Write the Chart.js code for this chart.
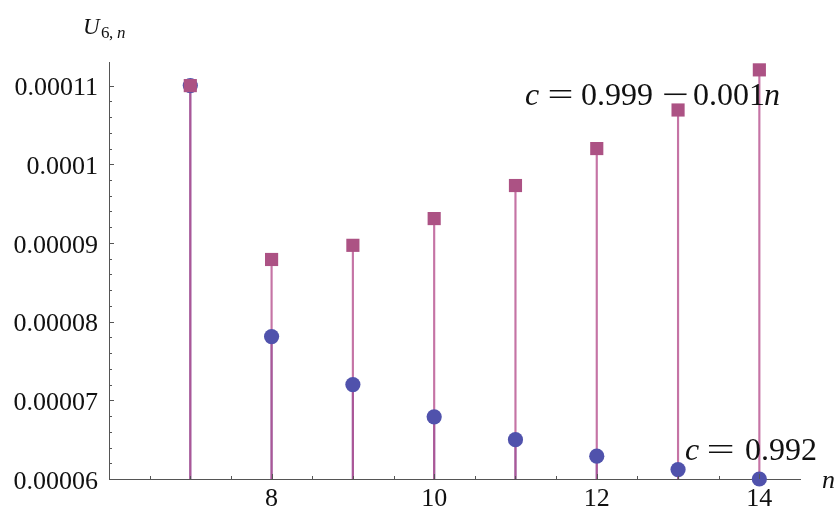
<!DOCTYPE html>
<html>
<head>
<meta charset="utf-8">
<script src="https://cdn.jsdelivr.net/npm/chart.js@4.4.0/dist/chart.umd.min.js"></script>
<style>
  html, body { margin: 0; padding: 0; background: #ffffff; }
  #wrap { width: 839px; height: 509px; }
</style>
</head>
<body>
<div id="wrap"><canvas id="chart"></canvas></div>
<script>
// ===== Data =====
const nValues = [7, 8, 9, 10, 11, 12, 13, 14];
const uConst = [0.000110, 0.0000781, 0.0000720, 0.0000679, 0.0000650, 0.0000629, 0.0000612, 0.0000600];
const uLinear = [0.000110, 0.0000879, 0.0000897, 0.0000931, 0.0000973, 0.0001020, 0.0001069, 0.0001120];
const xTicks = [8, 10, 12, 14];
const yTicks = [0.00006, 0.00007, 0.00008, 0.00009, 0.0001, 0.00011];
const yTickLabels = ['0.00006', '0.00007', '0.00008', '0.00009', '0.0001', '0.00011'];
const axisBase = 0.00006;

const blue = 'rgb(80, 82, 172)';
const plum = 'rgb(172, 82, 132)';
const serif = "'Liberation Serif', 'DejaVu Serif', serif";

// stems from the axis to each point
const stem = (vals) => nValues.map((n, i) => ({ x: n, y: [axisBase, vals[i]] }));
const pts = (vals) => nValues.map((n, i) => ({ x: n, y: vals[i] }));

// ===== ticks pointing inward + text labels =====
const decoPlugin = {
  id: 'deco',
  afterDraw(chart) {
    const ctx = chart.ctx;
    const xs = chart.scales.x, ys = chart.scales.y;
    const a = chart.chartArea;
    ctx.save();
    ctx.strokeStyle = '#555';
    ctx.lineWidth = 1;
    ctx.beginPath();
    for (let v = 6.5; v <= 14.01; v += 0.5) {
      const px = Math.round(xs.getPixelForValue(v)) + 0.5;
      const len = Number.isInteger(v) && v % 2 === 0 ? 5 : 3;
      ctx.moveTo(px, a.bottom);
      ctx.lineTo(px, a.bottom - len);
    }
    for (let k = 0; k <= 25; k++) {
      const v = axisBase + k * 0.000002;
      const py = Math.round(ys.getPixelForValue(v)) + 0.5;
      const len = k % 5 === 0 ? 5 : 3;
      ctx.moveTo(a.left, py);
      ctx.lineTo(a.left + len, py);
    }
    ctx.stroke();

    ctx.textBaseline = 'alphabetic';
    ctx.textAlign = 'left';
    ctx.fillStyle = '#111';
    // pieces of text at given x, italic or upright
    const put = (t, x, y, size, it) => {
      ctx.font = (it ? 'italic ' : '') + size + 'px ' + serif;
      ctx.fillText(t, x, y);
    };
    // stretch a glyph (= or minus) so its ink spans x0..x1, like TeX's wider signs
    const putFit = (t, x0, x1, y, size) => {
      ctx.font = size + 'px ' + serif;
      const m = ctx.measureText(t);
      const w = m.actualBoundingBoxLeft + m.actualBoundingBoxRight;
      const k = (x1 - x0) / w;
      ctx.save();
      ctx.translate(x0, y);
      ctx.scale(k, 1);
      ctx.fillText(t, m.actualBoundingBoxLeft, 0);
      ctx.restore();
    };
    put('c', 525, 105, 32, 1);
    putFit('=', 549, 572, 105, 32);
    put('0.999', 581, 105, 32, 0);
    putFit('\u2212', 663, 687, 105, 32);
    put('0.001', 693, 105, 32, 0);
    put('n', 764, 105, 32, 1);

    put('c', 685, 460, 32, 1);
    putFit('=', 708, 733, 460, 32);
    put('0.992', 745, 460, 32, 0);

    put('U', 83, 34, 23, 1);
    put('6', 101, 38, 17, 0);
    put(',', 109, 38, 17, 0);
    put('n', 117, 38, 17, 1);
    put('n', 822, 488, 26, 1);
    ctx.restore();
  }
};

// ===== Chart =====
const ctx = document.getElementById('chart').getContext('2d');
new Chart(ctx, {
  type: 'scatter',
  data: {
    datasets: [
      {
        type: 'bar',
        data: stem(uConst),
        backgroundColor: 'rgba(80, 60, 160, 0.6)',
        barThickness: 1.5,
        grouped: false,
        order: 4
      },
      {
        type: 'bar',
        data: stem(uLinear),
        backgroundColor: 'rgba(178, 70, 135, 0.75)',
        barThickness: 1.5,
        grouped: false,
        order: 3
      },
      {
        data: pts(uConst),
        pointStyle: 'circle',
        pointRadius: 7.6,
        pointBackgroundColor: blue,
        pointBorderWidth: 0,
        clip: false,
        order: 2
      },
      {
        data: pts(uLinear),
        pointStyle: 'rect',
        pointRadius: 9.3,
        pointBackgroundColor: plum,
        pointBorderWidth: 0,
        clip: false,
        order: 1
      }
    ]
  },
  options: {
    responsive: true,
    maintainAspectRatio: false,
    animation: false,
    events: [],
    layout: { padding: { top: 62, right: 39, bottom: 0, left: 0 } },
    plugins: {
      legend: { display: false },
      tooltip: { enabled: false }
    },
    scales: {
      x: {
        type: 'linear',
        min: 6,
        max: 14.5,
        offset: false,
        afterBuildTicks: (s) => { s.ticks = xTicks.map(v => ({ value: v })); },
        afterFit: (s) => { s.height = 30; },
        grid: { display: false, drawTicks: false, offset: false },
        border: { display: true, color: '#555', width: 1 },
        ticks: {
          color: '#111',
          padding: 5,
          maxRotation: 0,
          font: { family: serif, size: 26 }
        }
      },
      y: {
        type: 'linear',
        min: axisBase,
        max: 0.000113,
        afterBuildTicks: (s) => { s.ticks = yTicks.map(v => ({ value: v })); },
        afterFit: (s) => { s.width = 109; },
        grid: { display: false, drawTicks: false },
        border: { display: true, color: '#555', width: 1 },
        ticks: {
          color: '#111',
          padding: 11,
          labelOffset: 3,
          font: { family: serif, size: 26 },
          callback: (v, i) => yTickLabels[i]
        }
      }
    }
  },
  plugins: [decoPlugin]
});
</script>
</body>
</html>
